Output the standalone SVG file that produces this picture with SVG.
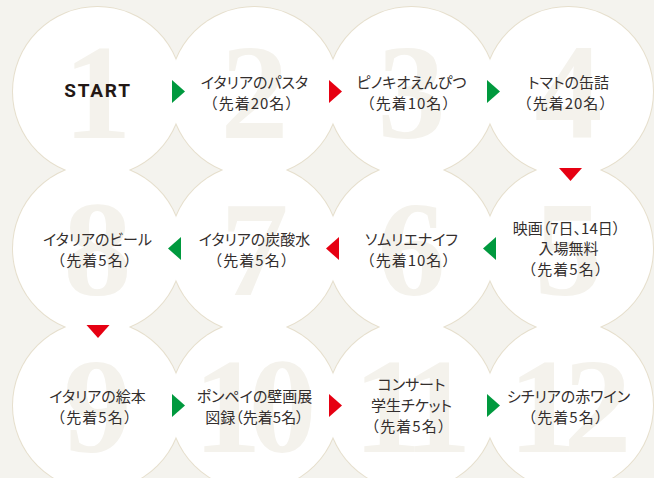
<svg xmlns="http://www.w3.org/2000/svg" width="654" height="478" viewBox="0 0 654 478">
  <style>
    .ring { fill: none; stroke: #e6dfcd; stroke-width: 2; }
    .disc { fill: #ffffff; }
    .num { font-family: "Liberation Serif", "DejaVu Serif", serif; font-weight: bold; font-size: 136px; fill: #f4f2ec; text-anchor: middle; }
    .t { font-family: "Noto Sans CJK JP", "Noto Sans", sans-serif; font-size: 15px; fill: #332e2d; text-anchor: middle; font-feature-settings: "palt"; }
    .p { font-family: "Noto Sans CJK JP", "Noto Sans", sans-serif; font-size: 15px; fill: #332e2d; text-anchor: middle; letter-spacing: 1px; }
    .start { font-family: Roboto, "Liberation Sans", sans-serif; font-weight: bold; font-size: 19px; letter-spacing: 1.8px; fill: #231815; text-anchor: middle; }
    .g { fill: #00993e; }
    .r { fill: #e60012; }
  </style>
  <defs>
    <path id="ar" d="M0,-11.5 L13,0 L0,11.5 Z"/>
    <path id="al" d="M0,0 L13,-11.5 L13,11.5 Z"/>
    <path id="ad" d="M-11.5,0 L11.5,0 L0,13 Z"/>
  </defs>
  <rect x="0" y="0" width="654" height="478" fill="#f4f3ee"/>

  <g id="outlines">
    <circle class="ring" cx="97.5" cy="91.5" r="84.5"/>
    <circle class="ring" cx="254.5" cy="91.5" r="84.5"/>
    <circle class="ring" cx="411.5" cy="91.5" r="84.5"/>
    <circle class="ring" cx="568.5" cy="91.5" r="84.5"/>
    <circle class="ring" cx="97.5" cy="248.5" r="84.5"/>
    <circle class="ring" cx="254.5" cy="248.5" r="84.5"/>
    <circle class="ring" cx="411.5" cy="248.5" r="84.5"/>
    <circle class="ring" cx="568.5" cy="248.5" r="84.5"/>
    <circle class="ring" cx="97.5" cy="405.5" r="84.5"/>
    <circle class="ring" cx="254.5" cy="405.5" r="84.5"/>
    <circle class="ring" cx="411.5" cy="405.5" r="84.5"/>
    <circle class="ring" cx="568.5" cy="405.5" r="84.5"/>
  </g>

  <g id="node1">
    <circle class="disc" cx="97.5" cy="91.5" r="84.5"/>
    <text class="num" x="97.5" y="137.5">1</text>
    <text class="start" x="98" y="97">START</text>
  </g>
  <g id="node2">
    <circle class="disc" cx="254.5" cy="91.5" r="84.5"/>
    <text class="num" x="254.5" y="137.5">2</text>
    <text class="t" x="254.5" y="88">イタリアのパスタ</text>
    <text class="p" x="252" y="108.5">（先着20名）</text>
  </g>
  <g id="node3">
    <circle class="disc" cx="411.5" cy="91.5" r="84.5"/>
    <text class="num" x="411.5" y="137.5">3</text>
    <text class="t" x="411.5" y="88">ピノキオえんぴつ</text>
    <text class="p" x="409" y="108.5">（先着10名）</text>
  </g>
  <g id="node4">
    <circle class="disc" cx="568.5" cy="91.5" r="84.5"/>
    <text class="num" x="568.5" y="137.5">4</text>
    <text class="t" x="568.5" y="88">トマトの缶詰</text>
    <text class="p" x="566" y="108.5">（先着20名）</text>
  </g>
  <g id="node5">
    <circle class="disc" cx="568.5" cy="248.5" r="84.5"/>
    <text class="num" x="568.5" y="294.5">5</text>
    <text class="t" x="566.5" y="233.5">映画（7日、14日）</text>
    <text class="t" x="568.5" y="254">入場無料</text>
    <text class="p" x="566" y="274.5">（先着5名）</text>
  </g>
  <g id="node6">
    <circle class="disc" cx="411.5" cy="248.5" r="84.5"/>
    <text class="num" x="411.5" y="294.5">6</text>
    <text class="t" x="411.5" y="244.5">ソムリエナイフ</text>
    <text class="p" x="409" y="265.5">（先着10名）</text>
  </g>
  <g id="node7">
    <circle class="disc" cx="254.5" cy="248.5" r="84.5"/>
    <text class="num" x="254.5" y="294.5">7</text>
    <text class="t" x="254.5" y="244.5">イタリアの炭酸水</text>
    <text class="p" x="252" y="265.5">（先着5名）</text>
  </g>
  <g id="node8">
    <circle class="disc" cx="97.5" cy="248.5" r="84.5"/>
    <text class="num" x="97.5" y="294.5">8</text>
    <text class="t" x="97.5" y="244.5">イタリアのビール</text>
    <text class="p" x="95" y="265.5">（先着5名）</text>
  </g>
  <g id="node9">
    <circle class="disc" cx="97.5" cy="405.5" r="84.5"/>
    <text class="num" x="97.5" y="451.5">9</text>
    <text class="t" x="97.5" y="402">イタリアの絵本</text>
    <text class="p" x="95" y="422.5">（先着5名）</text>
  </g>
  <g id="node10">
    <circle class="disc" cx="254.5" cy="405.5" r="84.5"/>
    <text class="num" x="227.5 282.5" y="451.5">10</text>
    <text class="t" x="254.5" y="402">ポンペイの壁画展</text>
    <text class="t" x="254.5" y="422.5">図録（先着5名）</text>
  </g>
  <g id="node11">
    <circle class="disc" cx="411.5" cy="405.5" r="84.5"/>
    <text class="num" x="387.5 437.5" y="451.5">11</text>
    <text class="t" x="411.5" y="389.5">コンサート</text>
    <text class="t" x="411.5" y="410.5">学生チケット</text>
    <text class="p" x="409" y="432">（先着5名）</text>
  </g>
  <g id="node12">
    <circle class="disc" cx="568.5" cy="405.5" r="84.5"/>
    <text class="num" x="542.5 597.5" y="451.5">12</text>
    <text class="t" x="568.5" y="402">シチリアの赤ワイン</text>
    <text class="p" x="566" y="422.5">（先着5名）</text>
  </g>

  <g id="connectors">
    <use href="#ar" class="g" x="172" y="91.5"/>
    <use href="#ar" class="r" x="329" y="91.5"/>
    <use href="#ar" class="g" x="487" y="91.5"/>
    <use href="#ad" class="r" x="570.5" y="168"/>
    <use href="#al" class="g" x="483" y="248.5"/>
    <use href="#al" class="r" x="326" y="248.5"/>
    <use href="#al" class="g" x="168" y="248.5"/>
    <use href="#ad" class="r" x="98" y="325"/>
    <use href="#ar" class="g" x="172" y="405.5"/>
    <use href="#ar" class="r" x="329" y="405.5"/>
    <use href="#ar" class="g" x="487" y="405.5"/>
  </g>
</svg>
